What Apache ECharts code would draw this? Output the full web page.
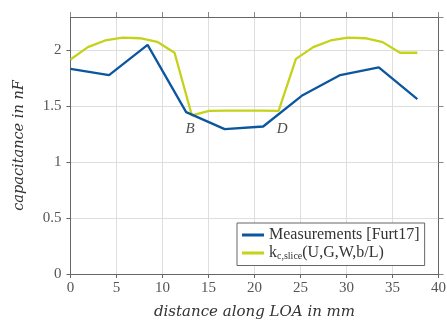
<!DOCTYPE html>
<html><head><meta charset="utf-8">
<script src="https://cdn.jsdelivr.net/npm/echarts@6/dist/echarts.min.js"></script>
<style>html,body{margin:0;padding:0;background:#fff}#c{width:447px;height:320px}</style>
</head><body><div id="c"></div>
<script>
const measX = [0, 4.19, 8.38, 12.57, 16.76, 20.94, 25.13, 29.32, 33.51, 37.7];
const measY = [1.836, 1.78, 2.05, 1.449, 1.297, 1.32, 1.595, 1.78, 1.85, 1.565];
const sliceX = [0, 1.885, 3.77, 5.655, 7.54, 9.425, 11.31, 13.195, 15.08, 16.965, 18.85, 20.735, 22.62, 24.505, 26.39, 28.275, 30.16, 32.045, 33.93, 35.815, 37.7];
const sliceY = [1.92, 2.03, 2.09, 2.116, 2.11, 2.078, 1.98, 1.419, 1.46, 1.462, 1.462, 1.462, 1.46, 1.925, 2.03, 2.09, 2.116, 2.11, 2.075, 1.98, 1.98];
const annotations = [["B", 13.0, 1.3], ["D", 23.0, 1.3]];
const xTicks = [0, 5, 10, 15, 20, 25, 30, 35, 40];
const yTicks = [0, 0.5, 1, 1.5, 2];
const names = ["Measurements [Furt17]", "k{sub|c,slice}(U,G,W,b/L)"];

const serif = "'Liberation Serif', 'DejaVu Serif', serif";
const titleFont = "'DejaVu Serif', serif";
const XMAX = 40, YMAX = 2.3;
const chart = echarts.init(document.getElementById('c'), null, {renderer: 'canvas'});
chart.setOption({
  animation: false,
  backgroundColor: '#fff',
  grid: {left: 70.5, right: 8.5, top: 17, bottom: 46, containLabel: false, outerBoundsMode: 'none'},
  xAxis: [
    {type: 'value', min: 0, max: XMAX, interval: 5, position: 'bottom',
      name: 'distance along LOA in mm', nameLocation: 'middle', nameGap: 31,
      nameTextStyle: {fontFamily: titleFont, fontStyle: 'italic', fontSize: 15, color: '#333', letterSpacing: 0.4},
      axisLine: {show: true, onZero: false, lineStyle: {color: '#666', width: 1}},
      axisTick: {show: true, length: 4, lineStyle: {color: '#666'}},
      splitLine: {show: true, lineStyle: {color: '#dedede', width: 1}},
      axisLabel: {fontFamily: serif, fontSize: 15, color: '#555', margin: 7, formatter: v => String(v)}},
    {type: 'value', min: 0, max: XMAX, interval: 5, position: 'top',
      axisLine: {show: true, onZero: false, lineStyle: {color: '#666'}}, axisTick: {show: true, length: 5, lineStyle: {color: '#888'}},
      axisLabel: {show: false}, splitLine: {show: false}}
  ],
  yAxis: [
    {type: 'value', min: 0, max: YMAX, interval: 0.5, position: 'left',
      name: 'capacitance in nF', nameLocation: 'middle', nameGap: 44,
      nameTextStyle: {fontFamily: titleFont, fontStyle: 'italic', fontSize: 14.5, color: '#333', letterSpacing: 0.3},
      axisLine: {show: true, onZero: false, lineStyle: {color: '#666', width: 1}},
      axisTick: {show: true, length: 4, lineStyle: {color: '#666'}},
      splitLine: {show: true, lineStyle: {color: '#dedede', width: 1}},
      axisLabel: {fontFamily: serif, fontSize: 15, color: '#555', margin: 9, formatter: v => String(v),
        showMaxLabel: false}},
    {type: 'value', min: 0, max: YMAX, interval: 0.5, position: 'right',
      axisLine: {show: true, onZero: false, lineStyle: {color: '#666'}}, axisTick: {show: true, length: 5, lineStyle: {color: '#888'}},
      axisLabel: {show: false}, splitLine: {show: false}}
  ],
  legend: {
    data: names, orient: 'vertical', left: 237, top: 223,
    backgroundColor: '#fff', borderColor: '#666', borderWidth: 1, borderRadius: 0,
    padding: [4, 5, 4, 5], itemGap: 2, itemWidth: 22, itemHeight: 3, icon: 'rect',
    textStyle: {fontFamily: serif, fontSize: 16, color: '#333', padding: [0, 0, 0, 0],
      rich: {sub: {fontFamily: serif, fontSize: 10, color: '#333', verticalAlign: 'bottom', padding: [7, 0, 0, 0]}}}
  },
  series: [
    {name: names[0], type: 'line', xAxisIndex: 0, yAxisIndex: 0, data: measX.map((x, i) => [x, measY[i]]),
      showSymbol: false, symbol: 'none', lineStyle: {color: '#0c56a0', width: 2.3}, itemStyle: {color: '#0c56a0'}, z: 3},
    {name: names[1], type: 'line', xAxisIndex: 0, yAxisIndex: 0, data: sliceX.map((x, i) => [x, sliceY[i]]),
      showSymbol: false, symbol: 'none', lineStyle: {color: '#c5d21a', width: 2.3}, itemStyle: {color: '#c5d21a'}, z: 2},
    {name: 'ann', type: 'scatter', xAxisIndex: 1, yAxisIndex: 1, symbolSize: 0, silent: true,
      data: annotations.map(a => ({name: a[0], value: [a[1], a[2]]})),
      label: {show: true, position: 'inside', formatter: p => p.name, fontFamily: serif, fontStyle: 'italic', fontSize: 15, color: '#222'}}
  ]
});
</script></body></html>
